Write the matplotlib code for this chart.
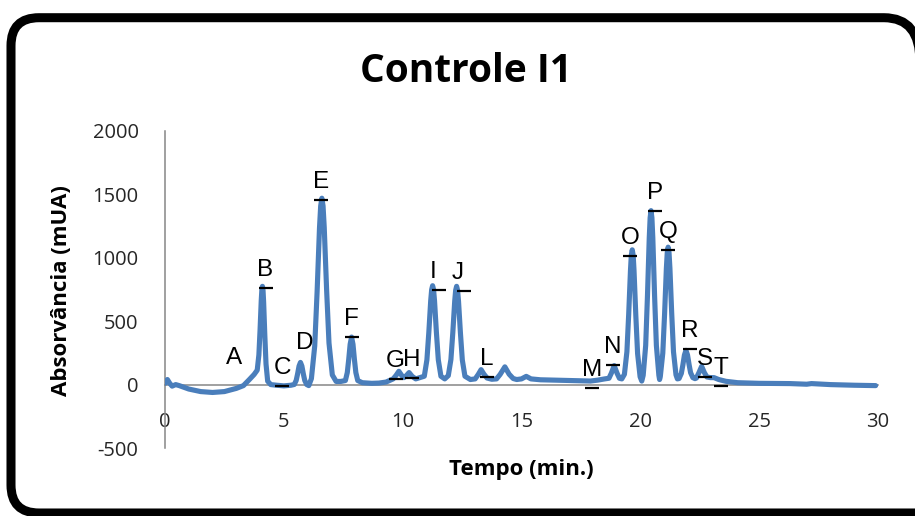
import matplotlib
matplotlib.use("Agg")
import matplotlib.pyplot as plt
from matplotlib.patches import PathPatch
from matplotlib.path import Path
from matplotlib.transforms import IdentityTransform

plt.rcParams["axes.unicode_minus"] = False

# chromatogram trace: retention time (min) and absorbance (mUA)
tempo = [
    0.0, 0.1, 0.2, 0.3, 0.45, 0.6, 1.0, 1.5, 2.0, 2.5, 3.0, 3.3, 3.55, 3.75,
    3.88, 3.95, 4.0, 4.05, 4.075, 4.1, 4.125, 4.15, 4.2, 4.25, 4.32, 4.45,
    4.7, 5.0, 5.3,
    5.44, 5.52, 5.58, 5.64, 5.7, 5.76, 5.82, 5.88, 5.96, 6.05,
    6.16, 6.3, 6.4, 6.5, 6.55, 6.6, 6.65, 6.7, 6.8, 6.9, 7.04, 7.2, 7.4,
    7.59, 7.67, 7.73, 7.79, 7.85, 7.91, 7.97, 8.03, 8.11, 8.3, 8.7, 9.0,
    9.3, 9.6,
    9.72, 9.84, 9.96, 10.05, 10.15, 10.27, 10.4, 10.55,
    10.91, 11.02, 11.1, 11.18, 11.22, 11.26, 11.3, 11.34, 11.42, 11.5,
    11.61, 11.77,
    11.92, 12.03, 12.11, 12.19, 12.23, 12.27, 12.31, 12.35, 12.43, 12.51,
    12.62, 12.85, 13.05,
    13.18, 13.3, 13.42, 13.55, 13.75, 13.95, 14.1, 14.3, 14.48, 14.65,
    14.8, 15.0, 15.2, 15.4, 15.8, 16.5, 17.0, 17.5, 17.9, 18.2, 18.5,
    18.68, 18.78, 18.9, 19.02, 19.12, 19.22,
    19.33, 19.435, 19.51, 19.585, 19.62, 19.66, 19.7, 19.735, 19.81, 19.885,
    19.99, 20.06,
    20.12, 20.225, 20.3, 20.375, 20.4125, 20.45, 20.4875, 20.525, 20.6,
    20.675, 20.78, 20.81,
    20.84, 20.945, 21.02, 21.095, 21.1325, 21.17, 21.2075, 21.245, 21.32,
    21.395, 21.5, 21.56,
    21.63, 21.725, 21.79, 21.855, 21.92, 21.985, 22.05, 22.115, 22.21, 22.3,
    22.36, 22.47, 22.58, 22.69, 22.8, 22.95, 23.1, 23.3, 23.6, 24.1,
    25.0, 26.3, 27.0, 27.2, 28.0, 29.0, 29.9,
]
absorb = [
    10, 40, 10, -12, 0, -8, -35, -55, -62, -55, -30, -8, 40, 80,
    114, 234, 432, 665, 746, 775, 742, 651, 388, 163, 27, 0,
    -5, -10, -5,
    1, 33, 85, 146, 175, 146, 85, 33, 1, -8,
    47, 305, 732, 1234, 1408, 1470, 1409, 1239, 747, 328, 76, 25, 25,
    32, 95, 198, 318, 375, 318, 198, 95, 32, 15, 10, 12,
    20, 45,
    72, 105, 72, 55, 70, 95, 65, 45,
    66, 195, 410, 662, 749, 780, 749, 662, 410, 195,
    66, 45,
    71, 198, 410, 658, 744, 775, 744, 657, 408, 194,
    66, 40, 45,
    80, 118, 82, 52, 42, 45, 80, 140, 82, 48,
    40, 45, 65, 45, 38, 35, 32, 30, 28, 35, 45,
    50, 90, 150, 90, 50, 45,
    81, 259, 554, 900, 1020, 1063, 1019, 897, 545, 244,
    62, 28,
    73, 309, 699, 1157, 1315, 1372, 1315, 1157, 699,
    309, 73, 40,
    63, 248, 555, 915, 1040, 1084, 1040, 917, 562,
    259, 77, 45,
    48, 88, 155, 233, 270, 234, 159, 94, 55, 47,
    52, 96, 144, 96, 60, 55, 55, 40, 26, 15,
    10, 8, 3, 8, 0, -5, -8,
]

# labelled fractions
picos = ["A", "B", "C", "D", "E", "F", "G", "H", "I", "J",
         "L", "M", "N", "O", "P", "Q", "R", "S", "T"]
picos_t = [2.9, 4.23, 4.94, 5.89, 6.58, 7.85, 9.70, 10.39, 11.53, 12.58,
           13.55, 17.96, 18.85, 19.58, 20.60, 21.18, 22.09, 22.72, 23.39]
picos_v = [70, 764, -8, 189, 1457, 378, 47, 55, 748, 740,
           63, -24, 157, 1016, 1370, 1063, 283, 63, -8]
sem_marca = {"A", "D"}

W, H = 915, 516
fig = plt.figure(figsize=(W / 100, H / 100), dpi=100)
ax = fig.add_axes([165 / W, 68 / H, 713 / W, 317 / H])

azul = "#4a7ebb"
cinza = "#868686"
fonte = "Open Sans"

ax.plot(tempo, absorb, color=azul, lw=3.7, solid_capstyle="round",
        solid_joinstyle="round", zorder=3)

for nome, t, v in zip(picos, picos_t, picos_v):
    if nome not in sem_marca:
        ax.plot(t, v, marker="_", ms=9.5, mew=1.6, color="black", zorder=4)
    dx = -4.5 if nome in ("I", "J") else 0
    ax.annotate(nome, (t, v), xytext=(dx, 8.5), textcoords="offset points",
                ha="center", va="baseline", fontsize=17.5,
                family="Liberation Sans", color="black", zorder=5)

ax.set_xlim(0, 30)
ax.set_ylim(-500, 2000)
ax.set_xticks(range(0, 31, 5))
ax.set_yticks(range(-500, 2001, 500))

ax.spines["top"].set_visible(False)
ax.spines["right"].set_visible(False)
ax.spines["bottom"].set_position(("data", 0))
for s in ("left", "bottom"):
    ax.spines[s].set_color(cinza)
    ax.spines[s].set_linewidth(1.1)

ax.tick_params(axis="both", length=0, labelsize=14.5, labelcolor="#262626")
ax.tick_params(axis="x", pad=20)
ax.tick_params(axis="y", pad=19)
for lab in ax.get_xticklabels() + ax.get_yticklabels():
    lab.set_family(fonte)
ax.set_facecolor("none")

fig.text(466 / W, 1 - 71 / H, "Controle I1", ha="center", va="center",
         fontsize=28, fontweight="bold", family=fonte)
fig.text(521 / W, 1 - 470 / H, "Tempo (min.)", ha="center", va="center",
         fontsize=16, fontweight="bold", family=fonte)
fig.text(62 / W, 1 - 291 / H, "Absorvância (mUA)", ha="center", va="center",
         rotation=90, fontsize=16, fontweight="bold", family=fonte)

# rounded frame of the chart area, open on the right where it leaves the
# canvas; pixel coordinates measured from the top
def px(x, y):
    return (x, H - y)

frame_pts = [px(920, 62), px(920, 17.7), px(884, 17.7),
             px(39, 17.7), px(11, 17.7), px(11, 45.7),
             px(11, 485), px(11, 513), px(39, 513),
             px(918, 513)]
frame_codes = [Path.MOVETO, Path.CURVE3, Path.CURVE3,
               Path.LINETO, Path.CURVE3, Path.CURVE3,
               Path.LINETO, Path.CURVE3, Path.CURVE3,
               Path.LINETO]
moldura = PathPatch(Path(frame_pts, frame_codes), transform=IdentityTransform(),
                    fill=False, edgecolor="black", linewidth=6.5,
                    capstyle="butt", joinstyle="round")
fig.patches.append(moldura)

fig.savefig("out.png", dpi=100)
